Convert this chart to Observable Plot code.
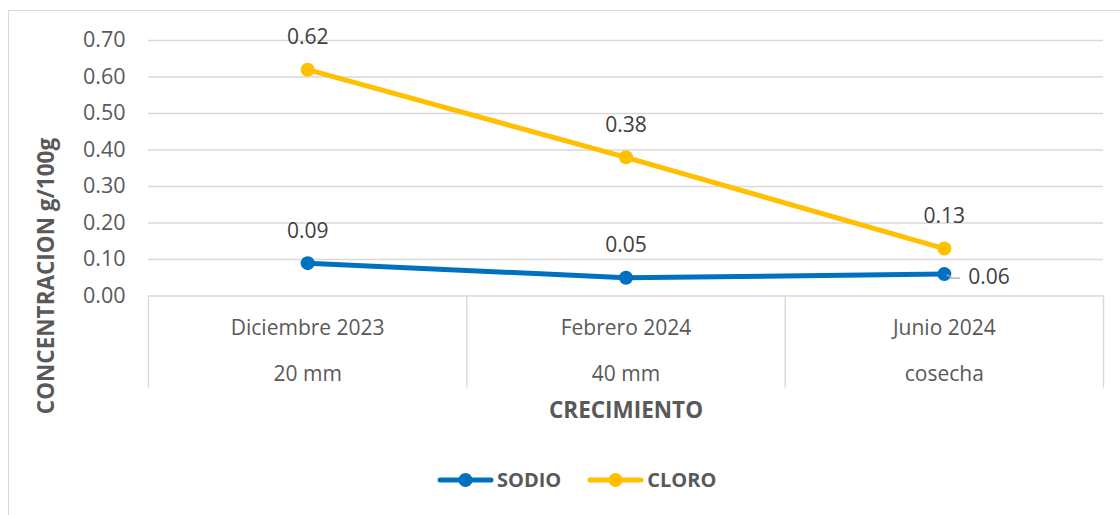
<!DOCTYPE html>
<html>
<head>
<meta charset="utf-8">
<script src="https://cdn.jsdelivr.net/npm/d3@7"></script>
<script src="https://cdn.jsdelivr.net/npm/@observablehq/plot@0.6"></script>
<style>
  html, body { margin: 0; padding: 0; background: #fff; width: 1120px; height: 515px; overflow: hidden; }
  body { position: relative; font-family: "Open Sans", "Noto Sans", sans-serif; }
  #frame { position: absolute; left: 8px; top: 10px; width: 1200px; height: 600px; border: 1.5px solid #d9d9d9; box-sizing: border-box; pointer-events: none; }
  #chart { position: absolute; left: 0; top: 0; }
  #ytitle { position: absolute; left: 45px; top: 276px; transform: translate(-50%, -50%) rotate(-90deg); white-space: nowrap; font-weight: 700; font-size: 22.5px; color: #595959; }
  #legend { position: absolute; left: 437px; top: 466px; display: flex; align-items: center; font-weight: 700; font-size: 20px; color: #595959; }
  #legend .item { display: flex; align-items: center; margin-right: 26px; }
  #legend svg { margin-right: 3px; }
</style>
</head>
<body>
<div id="chart"></div>
<div id="ytitle"></div>
<div id="legend"></div>
<div id="frame"></div>
<script>
// ---- data ----
const months = ["Diciembre 2023", "Febrero 2024", "Junio 2024"];
const stages = ["20 mm", "40 mm", "cosecha"];
const sodio = [0.09, 0.05, 0.06];
const cloro = [0.62, 0.38, 0.13];
const yTicks = [0, 0.1, 0.2, 0.3, 0.4, 0.5, 0.6, 0.7];
const seriesNames = ["SODIO", "CLORO"];
const seriesColors = ["#0070C0", "#FFC000"];
const xTitle = "CRECIMIENTO";
const yTitle = "CONCENTRACION g/100g";

const fmt = d3.format(".2f");
const idx = months.map((_, i) => i);
const rows = [];
seriesNames.forEach((s, si) => {
  const vals = si === 0 ? sodio : cloro;
  vals.forEach((v, i) => rows.push({series: s, i, v}));
});
const boundaries = d3.range(months.length + 1).map(k => k - 0.5);
const gridColor = "#d9d9d9";
const textColor = "#595959";
const labelColor = "#404040";

// leader line for the SODIO/Junio label (label placed to the right)
const leaderMark = (index, scales) => {
  const g = d3.create("svg:g");
  const x0 = scales.x(2), y0 = scales.y(sodio[2]);
  g.append("path")
    .attr("d", `M${x0 + 3},${y0 + 1}L${x0 + 8},${y0 + 4.5}L${x0 + 16},${y0 + 4.5}`)
    .attr("fill", "none").attr("stroke", "#a6a6a6").attr("stroke-width", 1.3);
  return g.node();
};

const labelRows = rows.filter(r => !(r.series === "SODIO" && r.i === 2));
const sideRows = rows.filter(r => r.series === "SODIO" && r.i === 2);

const chart = Plot.plot({
  width: 1120,
  height: 450,
  marginLeft: 148,
  marginRight: 17,
  marginTop: 40,
  marginBottom: 154.5,
  style: {fontFamily: "'Open Sans', 'Noto Sans', sans-serif", background: "transparent", overflow: "visible"},
  x: {domain: [-0.5, months.length - 0.5], axis: null},
  y: {domain: [0, 0.7], axis: null},
  color: {domain: seriesNames, range: seriesColors},
  marks: [
    Plot.ruleY(yTicks.slice(1), {y: d => d, stroke: gridColor, strokeWidth: 1.4}),
    Plot.ruleY([0], {stroke: gridColor, strokeWidth: 1.4}),
    Plot.ruleX(boundaries, {x: d => d, y1: 0, y2: -0.252, stroke: gridColor, strokeWidth: 1.4}),
    Plot.text(yTicks, {x: -0.5, y: d => d, dx: -23, text: d => fmt(d), textAnchor: "end", fill: textColor, fontSize: 21.5}),
    Plot.text(idx, {x: d => d, y: 0, dy: 32, text: d => months[d], fill: textColor, fontSize: 21}),
    Plot.text(idx, {x: d => d, y: 0, dy: 78, text: d => stages[d], fill: textColor, fontSize: 21}),
    Plot.text([xTitle], {x: (months.length - 1) / 2, y: 0, dy: 115, text: d => d, fill: textColor, fontSize: 22.5, fontWeight: 700}),
    Plot.line(rows, {x: "i", y: "v", z: "series", stroke: "series", strokeWidth: 5, strokeLinecap: "round"}),
    Plot.dot(rows, {x: "i", y: "v", fill: "series", r: 7}),
    Plot.text(labelRows, {x: "i", y: "v", dy: -32, text: d => fmt(d.v), fill: labelColor, fontSize: 21}),
    leaderMark,
    Plot.text(sideRows, {x: "i", y: "v", dx: 24, dy: 3, textAnchor: "start", text: d => fmt(d.v), fill: labelColor, fontSize: 21})
  ]
});
document.getElementById("chart").appendChild(chart);

document.getElementById("ytitle").textContent = yTitle;

const legend = d3.select("#legend");
seriesNames.forEach((s, si) => {
  const item = legend.append("div").attr("class", "item");
  const sw = item.append("svg").attr("width", 57).attr("height", 16);
  sw.append("line").attr("x1", 3).attr("x2", 54).attr("y1", 8).attr("y2", 8)
    .attr("stroke", seriesColors[si]).attr("stroke-width", 5).attr("stroke-linecap", "round");
  sw.append("circle").attr("cx", 28.5).attr("cy", 8).attr("r", 7).attr("fill", seriesColors[si]);
  item.append("span").text(s);
});
</script>
</body>
</html>
